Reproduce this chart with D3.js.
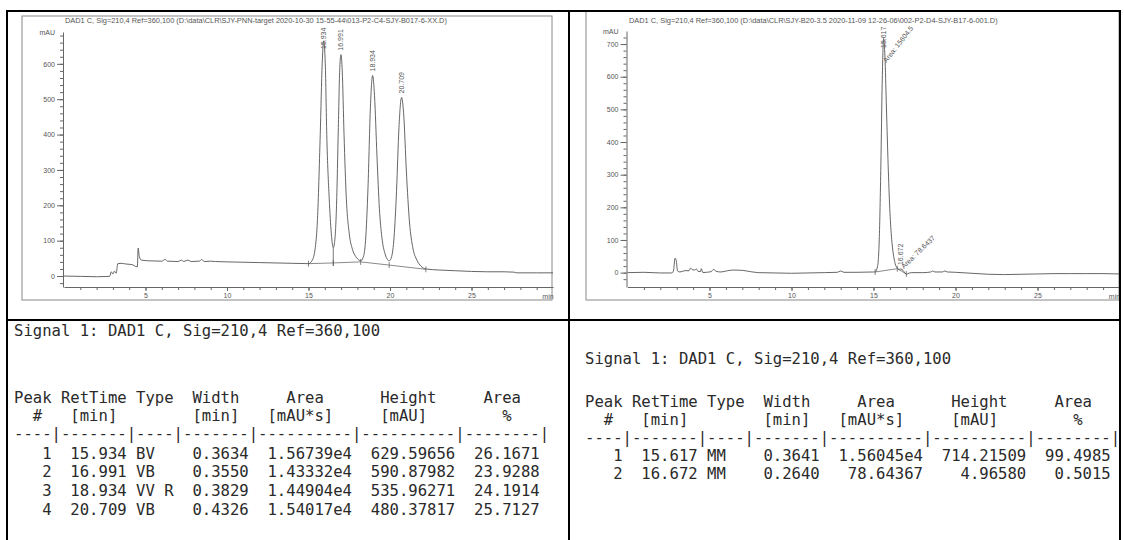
<!DOCTYPE html>
<html>
<head>
<meta charset="utf-8">
<script src="https://cdn.jsdelivr.net/npm/d3@7"></script>
<style>
  body { margin: 0; background: #fff; }
  svg { display: block; }
  .mono { font-family: "DejaVu Sans Mono", monospace; font-size: 15.6px; fill: #2a2a2a; white-space: pre; }
  .small { font-family: "Liberation Sans", Arial, sans-serif; fill: #555; }
</style>
</head>
<body>
<div id="chart"></div>
<script>
// ---- data ----
const leftTitle = 'DAD1 C, Sig=210,4 Ref=360,100 (D:\\data\\CLR\\SJY-PNN-target 2020-10-30 15-55-44\\013-P2-C4-SJY-B017-6-XX.D)'
const rightTitle = 'DAD1 C, Sig=210,4 Ref=360,100 (D:\\data\\CLR\\SJY-B20-3.5 2020-11-09 12-26-06\\002-P2-D4-SJY-B17-6-001.D)'

const xTicks = [5, 10, 15, 20, 25]
const leftYTicks = [0, 100, 200, 300, 400, 500, 600]
const rightYTicks = [0, 100, 200, 300, 400, 500, 600, 700]

// [min, mAU]
const leftTrace = [
  [0, 0], [1, -1], [2, -2], [2.8, -1], [2.9, 12], [3.0, 6], [3.1, 14], [3.2, 8], [3.3, 35],
  [3.5, 36], [3.8, 34], [4.2, 32], [4.4, 27], [4.5, 26], [4.55, 79], [4.62, 55], [4.75, 45],
  [5.2, 43], [6.0, 42], [6.2, 47], [6.35, 42], [7.0, 41], [7.2, 45], [7.35, 41], [7.6, 45],
  [7.8, 41], [8.3, 42], [8.45, 47], [8.6, 41], [9.0, 42], [9.3, 41], [10, 40], [12, 38],
  [14, 36], [15.0, 35], [15.2, 42], [15.4, 75], [15.55, 160], [15.72, 400], [15.84, 600],
  [15.934, 665], [16.03, 600], [16.12, 400], [16.27, 220], [16.4, 120], [16.52, 80],
  [16.6, 95], [16.72, 200], [16.83, 420], [16.92, 590], [16.991, 626], [17.07, 580],
  [17.18, 400], [17.32, 220], [17.5, 120], [17.7, 75], [17.9, 55], [18.1, 45], [18.2, 43],
  [18.35, 52], [18.5, 100], [18.65, 250], [18.8, 480], [18.934, 567], [19.05, 510],
  [19.2, 340], [19.35, 190], [19.5, 110], [19.7, 62], [19.85, 46], [19.95, 43],
  [20.1, 55], [20.25, 110], [20.4, 240], [20.55, 420], [20.709, 505], [20.85, 450],
  [21.0, 300], [21.2, 150], [21.4, 80], [21.65, 45], [21.9, 28], [22.2, 20], [23, 17],
  [24, 15], [25, 13], [26, 12], [27, 12], [27.6, 11], [27.8, 9], [29, 9], [30, 9]
]
const leftBaseline = [[15.0, 35], [16.52, 37], [18.2, 40], [19.95, 31], [22.2, 19]]
const leftDrops = [[16.52, 37, 80]]

const rightTrace = [
  [0, 0], [1, 1], [2, -1], [2.7, -1], [2.8, 5], [2.9, 44], [2.97, 38], [3.05, 5], [3.2, 2],
  [3.5, 6], [3.75, 6], [3.85, 14], [3.95, 9], [4.1, 8], [4.2, 11], [4.3, 4], [4.45, 3],
  [4.5, 12], [4.6, 0], [4.8, 1], [5.1, 3], [5.25, 10], [5.4, 4], [5.7, 2], [6.1, 6],
  [6.5, 8], [7.0, 7], [7.5, 3], [8.0, 0], [9, -1], [10, -2], [11, -1], [12, 0], [12.8, 1],
  [13.0, 5], [13.2, 1], [14, 1], [15.0, 2], [15.1, 2], [15.25, 20], [15.35, 100],
  [15.45, 330], [15.53, 580], [15.617, 717], [15.7, 660], [15.78, 520], [15.88, 350],
  [15.98, 210], [16.08, 120], [16.2, 60], [16.32, 28], [16.45, 14], [16.6, 10],
  [16.672, 11], [16.8, 7], [16.9, 0], [17.0, -5], [17.1, -3], [17.3, 0], [18, 0],
  [18.5, 2], [18.6, 5], [18.75, 2], [19.2, 2], [19.35, 5], [19.5, 2], [20, 1], [21, -2],
  [22, -5], [23, -6], [24, -5], [25, -4], [26, -3], [27, -3], [28, -3], [29, -3], [30, -4]
]
const rightBaseline = [[15.1, 2], [16.45, 12], [17.0, -4]]
const rightDrops = []

// report tables
const signalLine = 'Signal 1: DAD1 C, Sig=210,4 Ref=360,100'
const headerLines = [
  'Peak RetTime Type  Width     Area      Height     Area  ',
  '  #   [min]        [min]   [mAU*s]     [mAU]        %   ',
  '----|-------|----|-------|----------|----------|--------|'
]
const leftRetTimes = ['15.934', '16.991', '18.934', '20.709']
const leftTypes = ['BV', 'VB', 'VV R', 'VB']
const leftWidths = ['0.3634', '0.3550', '0.3829', '0.4326']
const leftAreas = ['1.56739e4', '1.43332e4', '1.44904e4', '1.54017e4']
const leftHeights = ['629.59656', '590.87982', '535.96271', '480.37817']
const leftPct = ['26.1671', '23.9288', '24.1914', '25.7127']

const rightRetTimes = ['15.617', '16.672']
const rightTypes = ['MM', 'MM']
const rightWidths = ['0.3641', '0.2640']
const rightAreas = ['1.56045e4', '78.64367']
const rightHeights = ['714.21509', '4.96580']
const rightPct = ['99.4985', '0.5015']
const rightAreaLabels = ['15604.5', '78.6437']

// ---- layout ----
const width = 1124
const height = 540

const svg = d3.select('#chart').append('svg')
  .attr('width', width)
  .attr('height', height)
svg.append('rect').attr('width', width).attr('height', height).attr('fill', '#fff')

function apexOf (trace, rt) {
  return d3.max(trace.filter(d => Math.abs(d[0] - rt) < 0.12), d => d[1])
}

function drawChromatogram (c) {
  const g = svg.append('g')
  g.append('rect')
    .attr('x', c.frame[0]).attr('y', c.frame[1])
    .attr('width', c.frame[2]).attr('height', c.frame[3])
    .attr('fill', 'none').attr('stroke', '#888').attr('stroke-width', 1)

  g.append('text').attr('class', 'small')
    .attr('x', c.titleX).attr('y', 23)
    .attr('font-size', 7.4)
    .text(c.title)

  const x = d3.scaleLinear().domain([0, 30]).range(c.xRange)
  const y = d3.scaleLinear().domain(c.yDomain).range([287, c.yTop])

  // y axis: minor then major
  const yMinor = d3.range(c.yDomain[0] < -20 ? -20 : 0, c.yDomain[1], 20)
  g.append('g')
    .attr('transform', `translate(${c.xRange[0] - 1},0)`)
    .call(d3.axisLeft(y).tickValues(yMinor).tickSize(3).tickFormat(''))
    .call(a => a.select('.domain').remove())
  const yAx = g.append('g')
    .attr('transform', `translate(${c.xRange[0] - 1},0)`)
    .call(d3.axisLeft(y).tickValues(c.yTicks).tickSize(6).tickSizeOuter(0).tickPadding(2))
  yAx.selectAll('text').attr('class', 'small').attr('font-size', 7)
  g.append('text').attr('class', 'small')
    .attr('x', c.xRange[0] - 9).attr('y', c.yTop + 3)
    .attr('text-anchor', 'end').attr('font-size', 7)
    .text('mAU')

  // x axis
  g.append('g')
    .attr('transform', 'translate(0,287)')
    .call(d3.axisBottom(x).tickValues(d3.range(1, 30, 1)).tickSize(3).tickFormat(''))
    .call(a => a.select('.domain').remove())
  const xAx = g.append('g')
    .attr('transform', 'translate(0,287)')
    .call(d3.axisBottom(x).tickValues(xTicks).tickSize(4).tickSizeOuter(0).tickPadding(2))
  xAx.selectAll('text').attr('class', 'small').attr('font-size', 7)
  g.append('text').attr('class', 'small')
    .attr('x', x(30) - 5).attr('y', 299)
    .attr('text-anchor', 'middle').attr('font-size', 7)
    .text('min')

  g.selectAll('.domain, .tick line').attr('stroke', '#666')

  // integration baseline
  g.append('path')
    .datum(c.baseline)
    .attr('fill', 'none').attr('stroke', '#8a8a8a').attr('stroke-width', 1)
    .attr('d', d3.line().x(d => x(d[0])).y(d => y(d[1])))
  g.selectAll('.bmark')
    .data(c.baseline)
    .join('line')
    .attr('x1', d => x(d[0])).attr('x2', d => x(d[0]))
    .attr('y1', d => y(d[1]) - 3).attr('y2', d => y(d[1]) + 3)
    .attr('stroke', '#666').attr('stroke-width', 0.8)
  g.selectAll('.drop')
    .data(c.drops)
    .join('line')
    .attr('x1', d => x(d[0])).attr('x2', d => x(d[0]))
    .attr('y1', d => y(d[1]) + 3).attr('y2', d => y(d[2]))
    .attr('stroke', '#555').attr('stroke-width', 0.8)

  // signal
  g.append('path')
    .datum(c.trace)
    .attr('fill', 'none').attr('stroke', '#555').attr('stroke-width', 0.9)
    .attr('d', d3.line().curve(d3.curveMonotoneX).x(d => x(d[0])).y(d => y(d[1])))

  // peak labels
  c.rts.forEach((rt, i) => {
    const t = +rt
    const ay = y(apexOf(c.trace, t))
    const by = Math.max(ay - 4, c.yTop + 17)
    g.append('text').attr('class', 'small')
      .attr('transform', `translate(${x(t) + 2.5},${by}) rotate(-90)`)
      .attr('font-size', 7)
      .text(rt)
    if (c.areaLabels) {
      const sy = Math.max(ay, c.yTop + 32)
      g.append('text').attr('class', 'small')
        .attr('transform', `translate(${x(t) + 3},${sy}) rotate(${i === 0 ? -52 : -44})`)
        .attr('font-size', 7)
        .text('Area: ' + c.areaLabels[i])
    }
  })
}

drawChromatogram({
  frame: [22, 16, 530, 284],
  titleX: 65,
  title: leftTitle,
  xRange: [64, 553],
  yDomain: [-31, 690],
  yTop: 32,
  yTicks: leftYTicks,
  trace: leftTrace,
  baseline: leftBaseline,
  drops: leftDrops,
  rts: leftRetTimes
})

drawChromatogram({
  frame: [586, 11, 533, 289],
  titleX: 629,
  title: rightTitle,
  xRange: [627.5, 1119.5],
  yDomain: [-44, 740],
  yTop: 31,
  yTicks: rightYTicks,
  trace: rightTrace,
  baseline: rightBaseline,
  drops: rightDrops,
  rts: rightRetTimes,
  areaLabels: rightAreaLabels
})

// ---- report tables ----
function rowText (i, rts, types, widths, areas, heights, pct) {
  return String(i + 1).padStart(4) + ' ' + rts[i].padStart(7) + ' ' + types[i].padEnd(4) + ' ' +
    widths[i].padStart(7) + ' ' + areas[i].padStart(10) + ' ' + heights[i].padStart(10) + ' ' +
    pct[i].padStart(8)
}

function drawTable (x0, titleY, headY, rowY, rts, types, widths, areas, heights, pct) {
  const g = svg.append('g')
  g.append('text').attr('class', 'mono').attr('x', x0).attr('y', titleY).text(signalLine)
  headerLines.forEach((s, i) => {
    g.append('text').attr('class', 'mono').attr('x', x0).attr('y', headY + i * 18).text(s)
  })
  rts.forEach((d, i) => {
    g.append('text').attr('class', 'mono')
      .attr('x', x0).attr('y', rowY + i * 18.7)
      .text(rowText(i, rts, types, widths, areas, heights, pct))
  })
}

drawTable(14, 335.5, 402.5, 458.5, leftRetTimes, leftTypes, leftWidths, leftAreas, leftHeights, leftPct)
drawTable(585, 363.5, 407, 460.5, rightRetTimes, rightTypes, rightWidths, rightAreas, rightHeights, rightPct)

// ---- grid lines of the page table ----
const grid = svg.append('g').attr('stroke', '#000').attr('stroke-width', 2)
grid.append('line').attr('x1', 6).attr('x2', 1121).attr('y1', 11).attr('y2', 11)
grid.append('line').attr('x1', 7).attr('x2', 7).attr('y1', 10).attr('y2', 540)
grid.append('line').attr('x1', 569).attr('x2', 569).attr('y1', 10).attr('y2', 540)
grid.append('line').attr('x1', 1120).attr('x2', 1120).attr('y1', 10).attr('y2', 540)
grid.append('line').attr('x1', 6).attr('x2', 1121).attr('y1', 320).attr('y2', 320)
</script>
</body>
</html>
